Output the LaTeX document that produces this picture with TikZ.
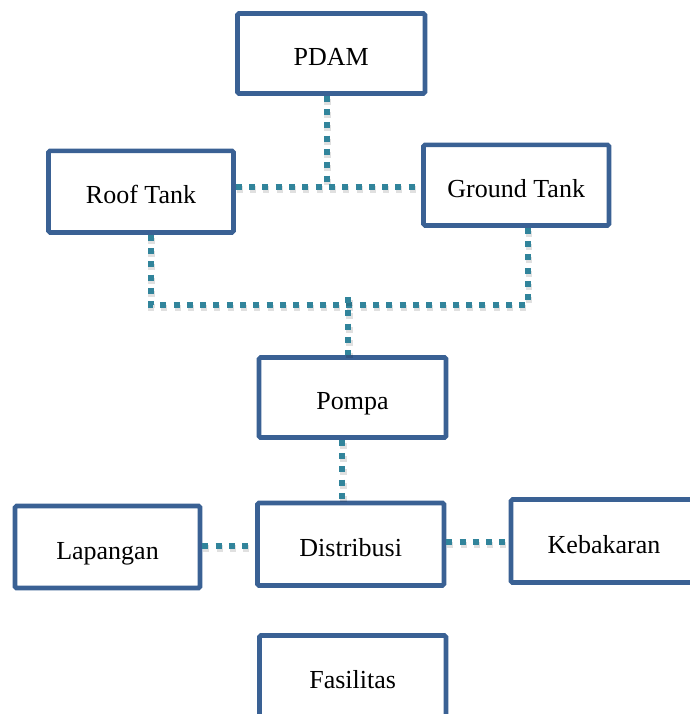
\documentclass[tikz,border=0pt]{standalone}
\usepackage{fontspec}
\setmainfont{Liberation Serif}
\definecolor{boxblue}{HTML}{3A6194}
\definecolor{teal}{HTML}{31849B}
\tikzset{
  box/.style={draw=boxblue, line width=4.6pt, rounded corners=1.5pt, fill=white,
    inner sep=0pt, minimum width=187pt, minimum height=81pt,
    text height=24pt, text depth=0pt,
    font=\fontsize{26pt}{30pt}\selectfont},
  conn/.style={draw=teal, line width=6pt, dash pattern=on 6pt off 7.3pt,
    preaction={draw=black, opacity=0.12, line width=6.5pt, dash pattern=on 6pt off 7.3pt,
      transform canvas={shift={(1pt,-3pt)}}}}
}
\begin{document}
\begin{tikzpicture}[x=1pt,y=-1pt]
\useasboundingbox (0,0) rectangle (689,714);
% nodes
\node[box, minimum width=187.5pt, minimum height=80pt] (pdam) at (331.2,53.5) {PDAM};
\node[box, minimum width=185pt, minimum height=81.5pt] (roof) at (141,191.7) {Roof Tank};
\node[box, minimum width=185.5pt, minimum height=80.5pt] (ground) at (516.2,185.2) {Ground Tank};
\node[box, minimum height=80pt] (pompa) at (352.5,397.5) {Pompa};
\node[box, minimum width=185pt, minimum height=82pt] (lap) at (107.5,547) {Lapangan};
\node[box, minimum width=186.5pt, minimum height=82.5pt] (dist) at (350.7,544.2) {Distribusi};
\node[box, minimum width=186pt, minimum height=83pt] (keb) at (604,541) {Kebakaran};
\node[box, minimum width=186.5pt, minimum height=81pt] (fas) at (352.7,676) {Fasilitas};
% junction coordinates
\coordinate (j1) at (326.7,186.7);
\coordinate (c1) at (150.7,305);
\coordinate (c2) at (528,305);
\coordinate (t1) at (348.3,297);
\coordinate (d1) at (342.3,470);
\coordinate (e1) at (0,545.7);
\coordinate (e2) at (0,542);
% connectors
\draw[conn] (pdam.south -| j1) -- (j1);
\draw[conn] (roof.east |- j1) -- (ground.west |- j1);
\draw[conn] (roof.south -| c1) -- (c1) -- (c2) -- (ground.south -| c2);
\draw[conn] (t1) -- (pompa.north -| t1);
\draw[conn] (pompa.south -| d1) -- (dist.north -| d1);
\draw[conn] (lap.east |- e1) -- (dist.west |- e1);
\draw[conn] (dist.east |- e2) -- (keb.west |- e2);
\end{tikzpicture}
\end{document}
